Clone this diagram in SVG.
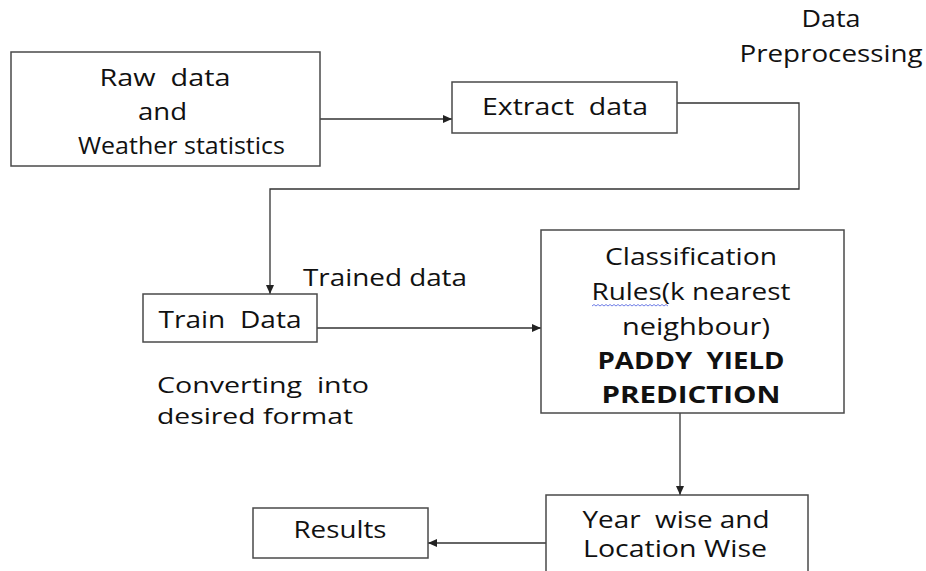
<svg xmlns="http://www.w3.org/2000/svg" width="926" height="571" viewBox="0 0 926 571">
<defs>
<marker id="arr" markerWidth="10" markerHeight="8" refX="9" refY="4" orient="auto" markerUnits="userSpaceOnUse">
<path d="M0,0 L9,4 L0,8 Z" fill="#222"/>
</marker>
<style>
.box{fill:#fff;stroke:#4a4a4a;stroke-width:1.5}
.t{font-family:"Open Sans","Liberation Sans",sans-serif;font-size:23.5px;fill:#111;white-space:pre}
.s{font-size:22.5px}
.c{text-anchor:middle}
.b{font-weight:bold}
.ln{fill:none;stroke:#333;stroke-width:1.3}
</style>
</defs>
<rect width="926" height="571" fill="#fff"/>

<g id="connectors">
<line class="ln" x1="320" y1="119" x2="452" y2="119" marker-end="url(#arr)"/>
<polyline class="ln" points="677,103 799,103 799,189 270,189 270,294" marker-end="url(#arr)"/>
<line class="ln" x1="317" y1="328" x2="541" y2="328" marker-end="url(#arr)"/>
<line class="ln" x1="680" y1="413" x2="680" y2="495" marker-end="url(#arr)"/>
<line class="ln" x1="546" y1="543" x2="428" y2="543" marker-end="url(#arr)"/>
</g>

<g id="raw-data">
<rect class="box" x="11" y="52" width="309" height="114"/>
<text class="t c" x="165" y="86" textLength="131" lengthAdjust="spacingAndGlyphs">Raw  data</text>
<text class="t c" x="162.5" y="120" textLength="49" lengthAdjust="spacingAndGlyphs">and</text>
<text class="t c" x="181.5" y="154" textLength="207" lengthAdjust="spacingAndGlyphs">Weather statistics</text>
</g>

<g id="extract-data">
<rect class="box" x="452" y="82" width="225" height="51"/>
<text class="t c" x="565" y="115" textLength="166" lengthAdjust="spacingAndGlyphs">Extract  data</text>
</g>

<g id="data-preprocessing">
<text class="t c" x="831" y="27" textLength="59" lengthAdjust="spacingAndGlyphs">Data</text>
<text class="t c" x="831" y="62" textLength="183" lengthAdjust="spacingAndGlyphs">Preprocessing</text>
</g>

<g id="train-data">
<rect class="box" x="143" y="294" width="174" height="48"/>
<text class="t c" x="230" y="328" textLength="143" lengthAdjust="spacingAndGlyphs">Train  Data</text>
</g>

<g id="labels">
<text class="t" x="303" y="286" textLength="164" lengthAdjust="spacingAndGlyphs">Trained data</text>
<text class="t s" x="157" y="393" textLength="212" lengthAdjust="spacingAndGlyphs">Converting  into</text>
<text class="t s" x="157" y="424" textLength="196" lengthAdjust="spacingAndGlyphs">desired format</text>
</g>

<g id="classification">
<rect class="box" x="541" y="230" width="303" height="183"/>
<text class="t c" x="691" y="265" textLength="172" lengthAdjust="spacingAndGlyphs">Classification</text>
<text class="t c" x="691" y="300" textLength="199" lengthAdjust="spacingAndGlyphs">Rules(k nearest</text>
<path d="M592,306 l2,-1.5 l2,1.5 l2,-1.5 l2,1.5 l2,-1.5 l2,1.5 l2,-1.5 l2,1.5 l2,-1.5 l2,1.5 l2,-1.5 l2,1.5 l2,-1.5 l2,1.5 l2,-1.5 l2,1.5 l2,-1.5 l2,1.5 l2,-1.5 l2,1.5 l2,-1.5 l2,1.5 l2,-1.5 l2,1.5 l2,-1.5 l2,1.5 l2,-1.5 l2,1.5 l2,-1.5 l2,1.5 l2,-1.5 l2,1.5 l2,-1.5 l2,1.5 l2,-1.5 l2,1.5 l2,-1.5 l2,1.5" fill="none" stroke="#4a5de0" stroke-width="0.8"/>
<text class="t c" x="696" y="335" textLength="148" lengthAdjust="spacingAndGlyphs">neighbour)</text>
<text class="t c b" x="691" y="369" textLength="187" lengthAdjust="spacingAndGlyphs">PADDY  YIELD</text>
<text class="t c b" x="691" y="403" textLength="179" lengthAdjust="spacingAndGlyphs">PREDICTION</text>
</g>

<g id="year-location">
<rect class="box" x="546" y="495" width="262" height="90"/>
<text class="t c" x="676" y="528" textLength="187" lengthAdjust="spacingAndGlyphs">Year  wise and</text>
<text class="t c" x="675" y="557" textLength="184" lengthAdjust="spacingAndGlyphs">Location Wise</text>
</g>

<g id="results">
<rect class="box" x="253" y="508" width="175" height="50"/>
<text class="t c" x="340" y="538" textLength="93" lengthAdjust="spacingAndGlyphs">Results</text>
</g>
</svg>
